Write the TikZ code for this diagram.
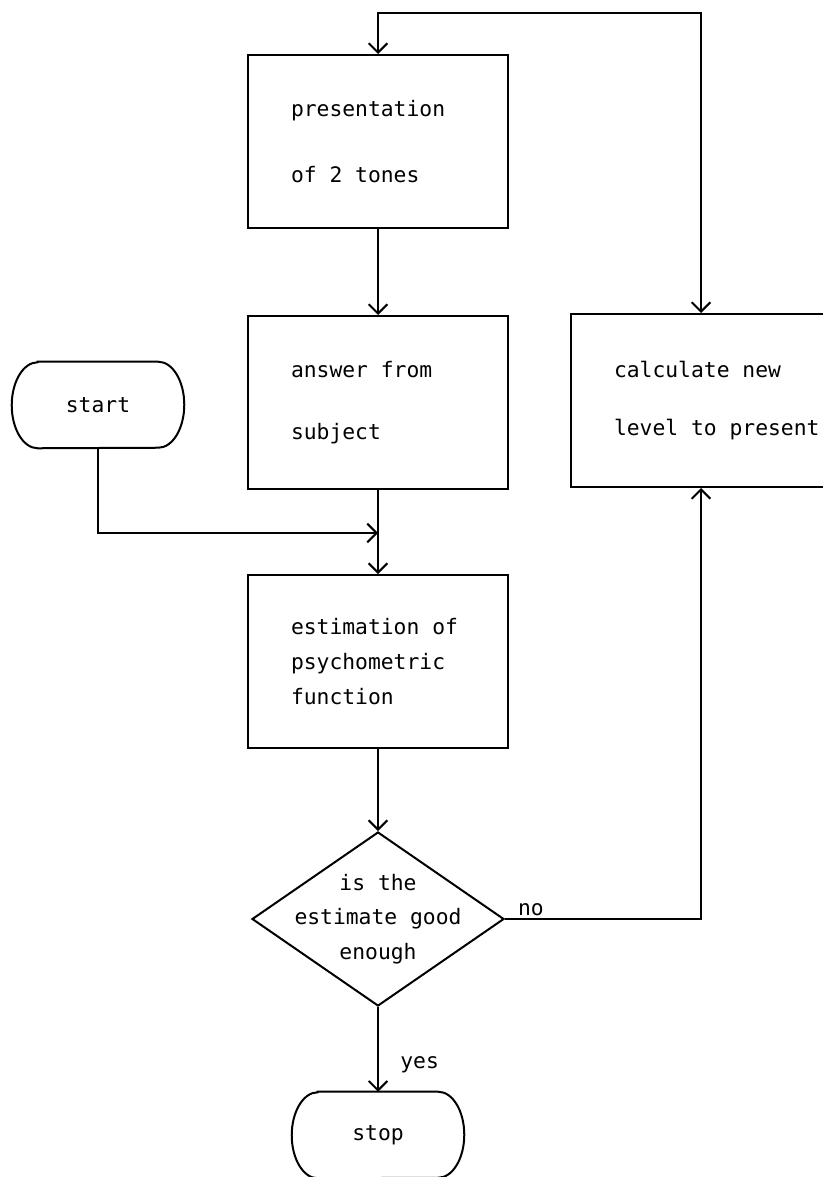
\documentclass[tikz,border=0pt]{standalone}
\usepackage{fontspec}
\newfontfamily\plotfont{DejaVu Sans Mono}
\usepackage{tikz}
\usetikzlibrary{arrows.meta,shapes.geometric}

\begin{document}
\begin{tikzpicture}[x=0.75pt,y=-0.75pt,
  >={Straight Barb[length=7pt,width=14pt]},
  every node/.style={font=\plotfont\fontsize{16}{26}\selectfont},
  line/.style={line width=1.5pt},
  block/.style={draw,line width=1.5pt,minimum height=129.75pt,text width=130.5pt,inner xsep=32.25pt,inner ysep=0pt,align=flush left},
  terminal/.style={minimum width=129pt,minimum height=64.5pt,inner sep=0pt},
  decision/.style={draw,line width=1.5pt,diamond,minimum width=189pt,minimum height=130.5pt,inner sep=0pt},
  lbl/.style={inner sep=2pt}]
\useasboundingbox (0,0) rectangle (823,1177);

% Process Node
\node[block] (present) at (378,141.5) {presentation\\[24pt]of 2 tones};
% Process Node
\node[block] (answer) at (378,402.5) {answer from\\[20.5pt]subject};
% Process Node
\node[block] (estim) at (378,661.5) {estimation of\\psychometric\\function};
% Process Node
\node[block] (calc) at (701,400.5) {calculate new\\[17.5pt]\mbox{level to present}};
% Decision Node
\node[decision] (check) at (378,919) {};
\node[align=center] (checktext) at (check) {is the\\estimate good\\enough};
% Terminal Node
\node[terminal] (start) at (98,405) {start};
\draw[line] ([xshift=19.5pt]start.north west) -- ([xshift=-19.5pt]start.north east) arc[start angle=90,end angle=-90,x radius=19.5pt,y radius=32.25pt] -- ([xshift=19.5pt]start.south west) arc[start angle=270,end angle=90,x radius=19.5pt,y radius=32.25pt] -- cycle;
% Terminal Node
\node[terminal] (stop) at (378,1135) {stop};
\draw[line] ([xshift=19.5pt]stop.north west) -- ([xshift=-19.5pt]stop.north east) arc[start angle=90,end angle=-90,x radius=19.5pt,y radius=32.25pt] -- ([xshift=19.5pt]stop.south west) arc[start angle=270,end angle=90,x radius=19.5pt,y radius=32.25pt] -- cycle;

\coordinate (join) at (378,533);
\coordinate (loop) at (701,13);

% Connection
\draw[line,->] (present.south) -- (answer.north);
% Connection
\draw[line,->] (answer.south) -- (estim.north);
% Connection
\draw[line,->] (start.south) |- (join);
% Connection
\draw[line,->] (estim.south) -- (check.north);
% Connection
\draw[line,->] (check.east) -| node[pos=0.066,anchor=south,lbl] {no} (calc.south);
% Connection
\draw[line,->] (check.south) -- node[pos=0.68,anchor=west,lbl,xshift=14pt] {yes} (stop.north);
% Connection
\draw[line,<->] (present.north) |- (loop) -- (calc.north);

\end{tikzpicture}
\end{document}
